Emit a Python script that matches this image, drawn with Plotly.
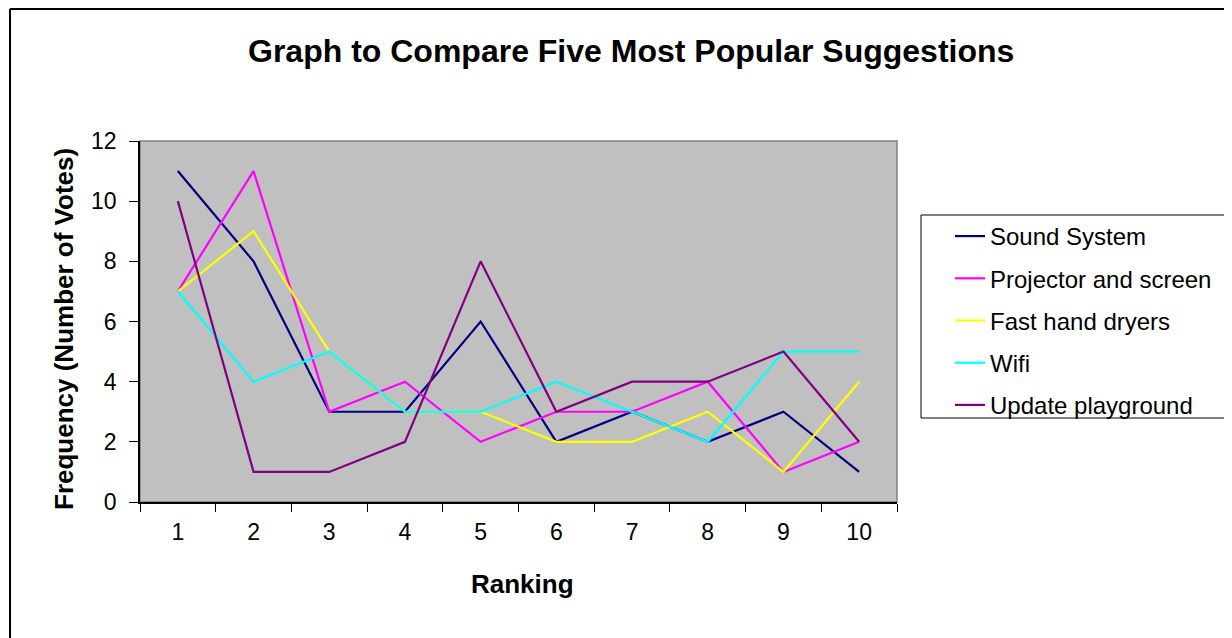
import plotly.graph_objects as go

rankings = ["1", "2", "3", "4", "5", "6", "7", "8", "9", "10"]
sound_system = [11, 8, 3, 3, 6, 2, 3, 2, 3, 1]
projector = [7, 11, 3, 4, 2, 3, 3, 4, 1, 2]
hand_dryers = [7, 9, 5, 3, 3, 2, 2, 3, 1, 4]
wifi = [7, 4, 5, 3, 3, 4, 3, 2, 5, 5]
playground = [10, 1, 1, 2, 8, 3, 4, 4, 5, 2]

series = [
    ("Sound System", sound_system, "#000080"),
    ("Projector and screen", projector, "#FF00FF"),
    ("Fast hand dryers", hand_dryers, "#FFFF00"),
    ("Wifi", wifi, "#00FFFF"),
    ("Update playground", playground, "#800080"),
]

OFF = 8  # page body margin
W, H = 1232 - OFF, 638 - OFF
L, R, T, B = 140, 897, 141, 502  # page pixel coords of the plot area
pw, ph = R - L, B - T

def px(x):
    return (x - L) / pw

def py(y):
    return (B - y) / ph

FONT = "Liberation Sans, Arial, sans-serif"

fig = go.Figure()
for i, (name, vals, color) in enumerate(series):
    fig.add_trace(go.Scatter(
        x=rankings, y=vals, name=name, mode="lines",
        line=dict(color=color, width=2.2), legendgroup=f"g{i}",
    ))

fig.update_layout(
    width=W, height=H,
    margin=dict(l=L - OFF, r=W - (R - OFF), t=T - OFF, b=H - (B - OFF), autoexpand=False),
    paper_bgcolor="white",
    plot_bgcolor="#C0C0C0",
    font=dict(family=FONT, size=23, color="black"),
    showlegend=True,
    legend=dict(
        x=px(950), y=py(214), xanchor="left", yanchor="top",
        borderwidth=0, bgcolor="rgba(0,0,0,0)",
        font=dict(family=FONT, size=24, color="black"),
        tracegroupgap=8,
    ),
    xaxis=dict(
        type="category", range=[-0.5, 9.5], tickson="boundaries", ticks="outside",
        ticklen=8, tickcolor="black", tickwidth=1, showline=True, linecolor="black",
        linewidth=1.5, showgrid=False, zeroline=False, ticklabelstandoff=9,
        tickfont=dict(family=FONT, size=23, color="black"),
    ),
    yaxis=dict(
        range=[0, 12], dtick=2, ticks="outside", ticklen=9, tickcolor="black",
        tickwidth=1, showline=True, linecolor="black", linewidth=1.5,
        showgrid=False, zeroline=False, ticklabelstandoff=8,
        tickfont=dict(family=FONT, size=23, color="black"),
    ),
)

fig.add_shape(type="rect", xref="paper", yref="paper", x0=0, x1=1, y0=0, y1=1,
              line=dict(color="#808080", width=1.5), layer="below")
# legend box
fig.add_shape(type="rect", xref="paper", yref="paper", x0=px(921), x1=px(1300),
              y0=py(418), y1=py(215), line=dict(color="black", width=1),
              fillcolor="white", layer="below")
# outer chart frame (top and left edges visible)
fig.add_shape(type="line", xref="paper", yref="paper", x0=px(10), x1=px(1300),
              y0=py(9), y1=py(9), line=dict(color="black", width=2))
fig.add_shape(type="line", xref="paper", yref="paper", x0=px(10), x1=px(10),
              y0=py(9), y1=py(700), line=dict(color="black", width=2))

fig.add_annotation(text="<b>Graph to Compare Five Most Popular Suggestions</b>",
                   xref="paper", yref="paper", x=px(631), y=py(51),
                   xanchor="center", yanchor="middle", showarrow=False,
                   font=dict(family=FONT, size=32, color="black"))
fig.add_annotation(text="<b>Ranking</b>", xref="paper", yref="paper",
                   x=px(522), y=py(584), xanchor="center", yanchor="middle",
                   showarrow=False, font=dict(family=FONT, size=26, color="black"))
fig.add_annotation(text="<b>Frequency (Number of Votes)</b>", xref="paper", yref="paper",
                   x=px(64), y=py(329), xanchor="center", yanchor="middle",
                   textangle=-90, showarrow=False,
                   font=dict(family=FONT, size=26, color="black"))

fig.write_html("out.html")
